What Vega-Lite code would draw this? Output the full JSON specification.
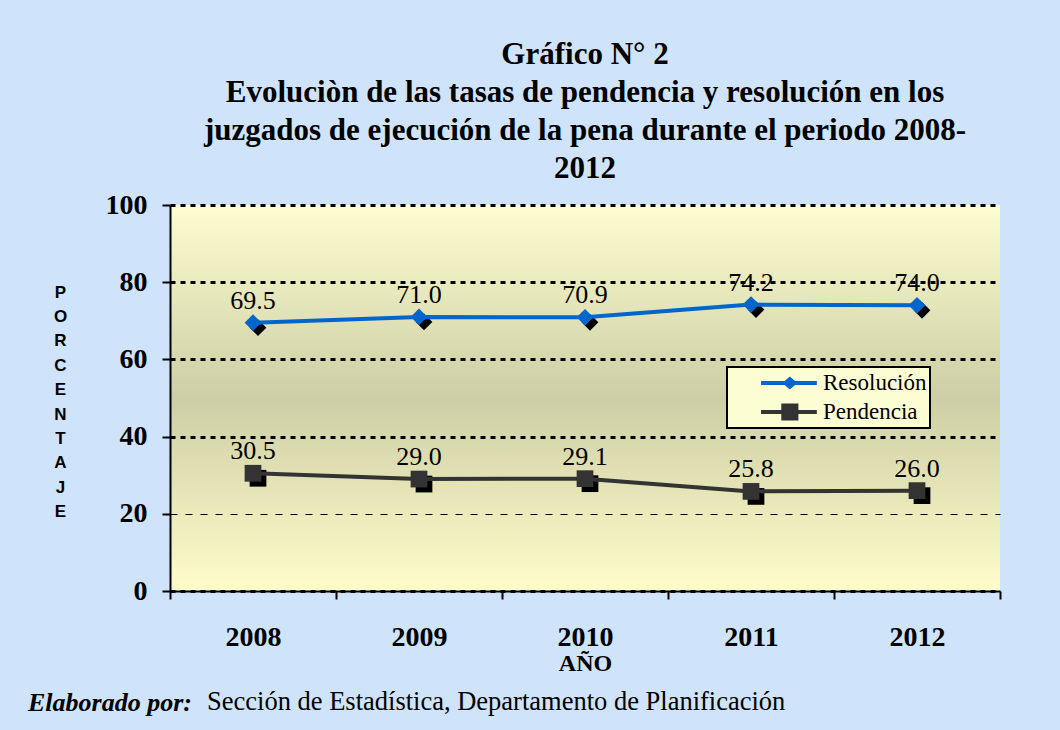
{
  "$schema": "https://vega.github.io/schema/vega-lite/v6.json",
  "autosize": "none",
  "padding": {"left": 170, "top": 205, "right": 890, "bottom": 525},
  "background": "#cfe3fa",
  "bounds": "flush",
  "spacing": 151,
  "config": {
    "view": {"stroke": null},
    "font": "Liberation Serif",
    "axis": {"labelFont": "Liberation Serif", "titleFont": "Liberation Serif", "labelColor": "#000000", "titleColor": "#000000"},
    "legend": {"strokeWidth": 2}
  },
  "vconcat": [
    {
      "width": 830,
      "height": 386,
      "title": {
        "text": ["Gráfico N° 2", "Evoluciòn de las tasas de pendencia y resolución en los", "juzgados de ejecución de la pena durante el periodo 2008-", "2012"],
        "font": "Liberation Serif",
        "fontSize": 31,
        "fontWeight": "bold",
        "color": "#000000",
        "lineHeight": 38,
        "anchor": "middle",
        "frame": "group",
        "offset": 6
      },
      "layer": [
        {
          "data": {"values": [{"fondo": "area"}]},
          "mark": {
            "type": "rect",
            "fill": {"gradient": "linear", "x1": 0, "y1": 0, "x2": 0, "y2": 1,
              "stops": [{"offset": 0, "color": "#fdfdd0"}, {"offset": 0.5, "color": "#cdcea5"}, {"offset": 1, "color": "#fefdca"}]}
          },
          "encoding": {
            "x": {"value": 0},
            "x2": {"value": "width"},
            "y": {"datum": 0, "type": "quantitative", "scale": {"domain": [0, 100]}},
            "y2": {"datum": 100}
          }
        },
        {
          "data": {"values": [
            {"anio": "2008", "serie": "Resolución", "valor": 69.5},
            {"anio": "2009", "serie": "Resolución", "valor": 71.0},
            {"anio": "2010", "serie": "Resolución", "valor": 70.9},
            {"anio": "2011", "serie": "Resolución", "valor": 74.2},
            {"anio": "2012", "serie": "Resolución", "valor": 74.0},
            {"anio": "2008", "serie": "Pendencia", "valor": 30.5},
            {"anio": "2009", "serie": "Pendencia", "valor": 29.0},
            {"anio": "2010", "serie": "Pendencia", "valor": 29.1},
            {"anio": "2011", "serie": "Pendencia", "valor": 25.8},
            {"anio": "2012", "serie": "Pendencia", "valor": 26.0}
          ]},
          "encoding": {
            "x": {
              "field": "anio", "type": "ordinal",
              "scale": {"paddingInner": 0, "paddingOuter": 0},
              "axis": {
                "title": "AÑO", "titleFontSize": 24, "titleFontWeight": "bold", "titlePadding": 0,
                "labelAngle": 0, "labelFontSize": 28, "labelFontWeight": "bold", "labelPadding": 24,
                "tickBand": "extent", "tickSize": 8, "tickWidth": 2, "tickColor": "#000000",
                "domainColor": "#000000", "domainWidth": 2, "grid": false, "zindex": 1
              }
            },
            "y": {
              "field": "valor", "type": "quantitative",
              "scale": {"domain": [0, 100]},
              "axis": {
                "title": ["P", "O", "R", "C", "E", "N", "T", "A", "J", "E"],
                "titleFont": "Liberation Sans", "titleFontSize": 17, "titleFontWeight": "bold",
                "titleAngle": 0, "titleAlign": "center", "titleBaseline": "middle", "titleLineHeight": 24.4,
                "titleX": -110, "titleY": 87,
                "values": [0, 20, 40, 60, 80, 100],
                "labelFontSize": 28, "labelFontWeight": "bold", "labelPadding": 15,
                "tickSize": 8, "tickWidth": 2, "tickColor": "#000000",
                "domainColor": "#000000", "domainWidth": 2,
                "grid": true, "gridColor": "#000000",
                "gridWidth": {"condition": {"test": "datum.value == 20", "value": 1}, "value": 3},
                "gridDash": {"condition": {"test": "datum.value == 20", "value": [7, 8]}, "value": [5, 5]},
                "zindex": 1
              }
            },
            "color": {
              "field": "serie", "type": "nominal",
              "scale": {"domain": ["Resolución", "Pendencia"], "range": ["#0066cc", "#333333"]},
              "legend": {
                "orient": "none", "legendX": 557, "legendY": 162, "title": null,
                "fillColor": "#fdfdd4", "strokeColor": "#000000", "padding": 3,
                "symbolSize": 8100, "clipHeight": 26, "rowPadding": 3, "symbolStrokeWidth": 0,
                "labelFont": "Liberation Serif", "labelFontSize": 23, "labelColor": "#000000", "labelOffset": 3
              }
            }
          },
          "layer": [
            {
              "mark": {"type": "point", "filled": true, "opacity": 1, "size": 0},
              "encoding": {
                "shape": {"field": "serie", "type": "nominal",
                  "scale": {"domain": ["Resolución", "Pendencia"],
                    "range": ["M-0.31,-0.045H0.93V0.045H-0.31ZM0.163,0L0.33,-0.144L0.497,0L0.33,0.144Z",
                              "M-0.31,-0.045H0.93V0.045H-0.31ZM0.14,-0.19H0.52V0.19H0.14Z"]}}
              }
            },
            {
              "mark": {"type": "point", "filled": true, "opacity": 1, "fill": "#000000", "stroke": null, "xOffset": 5, "yOffset": 5, "size": 280},
              "encoding": {
                "shape": {"condition": {"test": "datum.serie === 'Resolución'", "value": "diamond"}, "value": "square"}
              }
            },
            {
              "mark": {"type": "line", "strokeWidth": 4}
            },
            {
              "mark": {"type": "point", "filled": true, "opacity": 1, "size": 280},
              "encoding": {
                "shape": {"condition": {"test": "datum.serie === 'Resolución'", "value": "diamond"}, "value": "square"}
              }
            },
            {
              "mark": {"type": "text", "fontSize": 26, "dy": -22, "font": "Liberation Serif"},
              "encoding": {
                "text": {"field": "valor", "type": "quantitative", "format": ".1f"},
                "color": {"value": "#000000"}
              }
            }
          ]
        }
      ]
    },
    {
      "bounds": "flush",
      "spacing": 15,
      "hconcat": [
        {
          "width": 22, "height": 1,
          "data": {"values": [{"nota": "Elaborado por:"}]},
          "title": {"text": "Elaborado por:", "orient": "top", "anchor": "end", "frame": "group", "offset": 0, "baseline": "alphabetic",
            "font": "Liberation Serif", "fontSize": 26, "fontWeight": "bold", "fontStyle": "italic", "color": "#000000"},
          "mark": {"type": "text", "text": ""},
          "encoding": {}
        },
        {
          "width": 600, "height": 1,
          "data": {"values": [{"nota": "Sección de Estadística, Departamento de Planificación"}]},
          "title": {"text": "Sección de Estadística, Departamento de Planificación", "orient": "top", "anchor": "start", "frame": "group", "offset": 0, "baseline": "alphabetic",
            "font": "Liberation Serif", "fontSize": 26.5, "fontWeight": "normal", "color": "#000000"},
          "mark": {"type": "text", "text": ""},
          "encoding": {}
        }
      ]
    }
  ]
}
